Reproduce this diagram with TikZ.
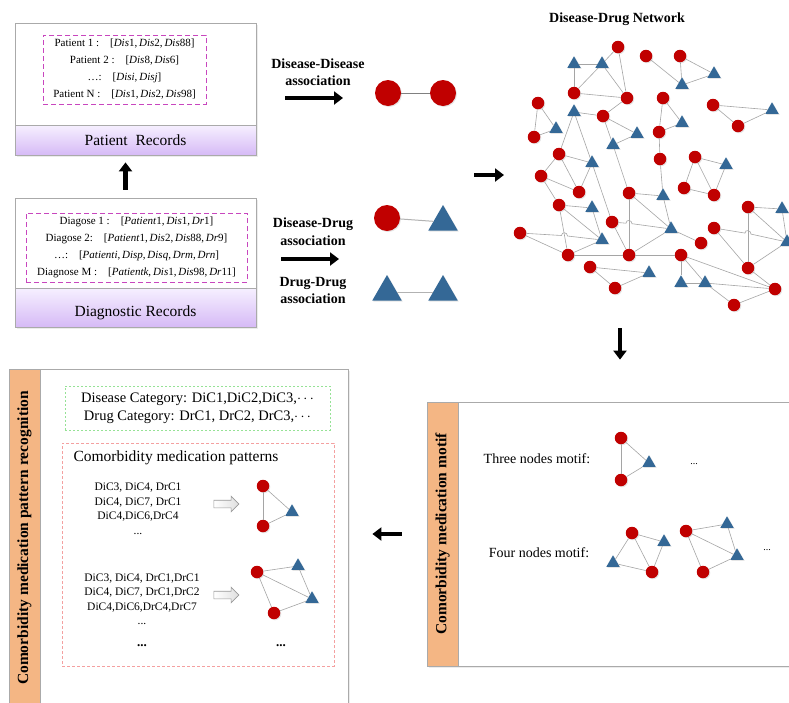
\documentclass[tikz,border=0pt]{standalone}
\usepackage{fontspec}
\setmainfont{Liberation Serif}
\usetikzlibrary{shapes.geometric,shapes.arrows,arrows.meta,shadows}

\definecolor{disred}{RGB}{192,0,0}
\definecolor{drugblue}{RGB}{52,104,150}
\definecolor{linkgray}{RGB}{165,165,165}
\definecolor{framegray}{RGB}{170,170,170}
\definecolor{bandorange}{RGB}{244,182,132}
\definecolor{bandtop}{RGB}{246,240,255}
\definecolor{bandbot}{RGB}{214,186,246}
\definecolor{listpink}{RGB}{200,70,190}
\definecolor{catgreen}{RGB}{150,226,150}
\definecolor{patred}{RGB}{244,160,160}

\tikzset{
	dis/.style={circle, fill=disred, minimum size=12.5pt, inner sep=0pt,
		drop shadow={shadow xshift=1pt, shadow yshift=-1pt, opacity=0.2}},
	drug/.style={regular polygon, regular polygon sides=3, fill=drugblue,
		minimum size=15.5pt, inner sep=0pt, yshift=-2pt,
		drop shadow={shadow xshift=1pt, shadow yshift=-1pt, opacity=0.2}},
	link/.style={draw=linkgray, line width=0.6pt},
	bond/.style={draw=gray, line width=1pt},
	bigarrow/.style={line width=4.5pt, -{Triangle[width=13pt, length=9pt]}},
	recbox/.style={draw=framegray, fill=white, line width=0.8pt,
		drop shadow={shadow xshift=1.5pt, shadow yshift=-1.5pt, opacity=0.15}},
	recband/.style={draw=framegray, line width=0.8pt, top color=bandtop, bottom color=bandbot},
	reclab/.style={font=\fontsize{15.5}{18}\selectfont},
	listbox/.style={draw=listpink, line width=1pt, dash pattern=on 5pt off 3pt,
		align=center, font=\fontsize{11}{17}\selectfont},
	panel/.style={draw=framegray, fill=white, line width=0.8pt,
		drop shadow={shadow xshift=1.5pt, shadow yshift=-1.5pt, opacity=0.15}},
	sideband/.style={draw=framegray, fill=bandorange, line width=0.8pt, minimum width=31pt},
	sidetext/.style={rotate=90, font=\bfseries\fontsize{15.5}{18}\selectfont},
	assoclab/.style={align=center, font=\bfseries\fontsize{14}{17.5}\selectfont},
	motiflab/.style={font=\fontsize{14}{17}\selectfont},
	seqlab/.style={align=center, font=\fontsize{11.5}{14.5}\selectfont},
	smalldots/.style={font=\fontsize{10}{12}\selectfont},
	bolddots/.style={font=\bfseries\fontsize{13}{15}\selectfont},
	hollow/.style={single arrow, draw=gray!80, line width=0.6pt, left color=white, right color=gray!25,
		minimum height=25pt, inner sep=3.5pt, single arrow head extend=4pt},
}

\begin{document}
\begin{tikzpicture}[x=1pt, y=-1pt]
			\useasboundingbox (0,0) rectangle (789,702);
			\fill[white] (0,0) rectangle (789,702);
			
			% Patient records
			\node (pat) at (135.5,89) [recbox, minimum width=241pt, minimum height=132pt] {};
			\node (patband) at (135.5,140) [recband, minimum width=241pt, minimum height=30pt] {};
			\node (patlab) at (135.5,140) [reclab] {Patient\ \ Records};
			\node (patlist) at (124.5,69.5) [listbox, minimum width=163pt, minimum height=69pt]
			{Patient 1 :\quad[\textit{Dis}1,\,\textit{Dis}2,\,\textit{Dis}88]\\
				Patient 2 :\quad[\textit{Dis}8,\,\textit{Dis}6]\\
				\dots:\quad[\textit{Disi},\,\textit{Disj}]\\
				Patient N :\quad[\textit{Dis}1,\,\textit{Dis}2,\,\textit{Dis}98]};
			
			% Diagnostic records
			\node (diag) at (135.5,262.5) [recbox, minimum width=241pt, minimum height=129pt] {};
			\node (diagband) at (135.5,307.5) [recband, minimum width=241pt, minimum height=39pt] {};
			\node (diaglab) at (135.5,313) [reclab] {Diagnostic Records};
			\node (diaglist) at (136.5,247.5) [listbox, minimum width=221pt, minimum height=69pt]
			{Diagose 1 :\quad[\textit{Patient}1,\,\textit{Dis}1,\,\textit{Dr}1]\\
				Diagose 2:\quad[\textit{Patient}1,\,\textit{Dis}2,\,\textit{Dis}88,\,\textit{Dr}9]\\
				\dots:\quad[\textit{Patienti},\,\textit{Disp},\,\textit{Disq},\,\textit{Drm},\,\textit{Drn}]\\
				Diagnose M :\quad[\textit{Patientk},\,\textit{Dis}1,\,\textit{Dis}98,\,\textit{Dr}11]};
			
			\draw[bigarrow, shorten <=8pt, shorten >=7pt] ([xshift=-10pt]diag.north) -- ([xshift=-10pt]pat.south);
			
			% Association types
			\node (ddlab) at (318,72) [assoclab] {Disease-Disease\\association};
			\coordinate (ddtail) at (285,98);
			\coordinate (ddhead) at (343,98);
			\draw[bigarrow] (ddtail) -- (ddhead);
			\node (dd1) at (388,93) [dis, minimum size=26pt] {};
			\node (dd2) at (443,93) [dis, minimum size=26pt] {};
			\draw[bond] (dd1) -- (dd2);
			
			\node (dglab) at (313,231.5) [assoclab] {Disease-Drug\\association};
			\coordinate (dgtail) at (281,259);
			\coordinate (dghead) at (339,259);
			\draw[bigarrow] (dgtail) -- (dghead);
			\node (dg1) at (387,218) [dis, minimum size=26pt] {};
			\node (dg2) at (443,218) [drug, minimum size=34pt, yshift=-2pt] {};
			\draw[bond, draw=gray!60] (dg1) -- (dg2);
			
			\node (rrlab) at (313,290.5) [assoclab] {Drug-Drug\\association};
			\node (rr1) at (387,288) [drug, minimum size=34pt, yshift=-2pt] {};
			\node (rr2) at (443,288) [drug, minimum size=34pt, yshift=-2pt] {};
			\draw[bond, draw=gray!60] (rr1) -- (rr2);
			
			\coordinate (netin) at (474,175);
			\coordinate (netleft) at (504,175);
			\draw[bigarrow] (netin) -- (netleft);
			
			% Disease-drug network
			\node (nettitle) at (617,19) [font=\bfseries\fontsize{14}{17}\selectfont] {Disease-Drug Network};
			\foreach \n/\x/\y in {c1/618/47, c2/646/56, c3/680/56, c4/574/93, c5/627/98, c6/538/103,
				c7/603/116, c8/663/98, c9/659/132, c10/713/105, c11/738/126, c12/534/137, c13/559/154,
				c14/660/159, c15/695/157, c16/541/176, c17/579/192, c18/684/188, c19/714/195, c20/629/193,
				c21/559/205, c22/748/207, c23/612/222, c24/714/228, c25/520/233, c26/701/243, c27/568/255,
				c28/629/255, c29/681/255, c30/590/267, c31/748/268, c32/615/288, c33/775/289, c34/734/305}
				\node (\n) at (\x,\y) [dis] {};
			\foreach \n/\x/\y in {t1/574/62, t2/602/62, t3/714/72, t4/682/83, t5/574/110, t6/682/121,
				t7/772/108, t8/556/127, t9/637/132, t10/613/143, t11/592/161, t12/726/163, t13/663/194,
				t14/592/206, t15/782/207, t16/671/227, t17/602/238, t18/787/240, t19/649/271,
				t20/681/281, t21/705/281}
				\node (\n) at (\x,\y) [drug] {};
			\foreach \a/\b in {c1/t2, c1/c5, t1/t2, t1/c4, t2/c4, t2/c5, c4/c5, c5/c7, t5/c7, c7/t9,
				c7/t10, t10/t9, t10/c20, c6/t8, c6/c12, c12/t8, t5/c13, t5/t11, c13/t11, c13/c16, c13/c17,
				t11/c17, t11/c23, c2/t4, c3/t4, c3/t3, t4/t3, c8/t6, c8/c9, c9/t6, c9/c14, c10/t7, c10/c11,
				c11/t7, c15/t12, c15/c18, c15/c19, c18/c19, c19/t12, c14/t13, t13/t16, c20/t13, c20/t16,
				t16/c28, t16/c26, c27/c28, c28/c29, c29/t20, c29/t21, t20/t21, c29/c33, t21/c33, t21/c34,
				c34/c33, c31/c33, c22/t15, c22/c31, c22/t18, t15/t18, c24/c31, c31/t18, c16/c17, c16/c21,
				c21/t14, c21/t17, t14/t17, c21/c27, c25/c27, c27/t17, c23/c28, c20/c28, c30/t19, c30/c32,
				c32/t19}
				\draw[link] (\a) -- (\b);
			% Line hops
			\draw[link] (c25) -- (561.5,235.5) .. controls (561.5,231.5) and (567.5,232) .. (567.5,236) -- (t17);
			\draw[link] (c23) -- (626,223.2) .. controls (626,219.2) and (632,219.7) .. (632,223.7) -- (t16);
			\draw[link] (c24) -- (745,233.1) .. controls (745,229.1) and (751,230.1) .. (751,234.1) -- (t18);
			
			% Motif panel
			\node (motif) at (611,534) [panel, minimum width=368pt, minimum height=264pt] {};
			\node (motifband) at (442.5,534) [sideband, minimum height=264pt] {};
			\node (motiftext) at (442.5,534) [sidetext] {Comorbidity medication motif};
			\coordinate (netbottom) at (620,310);
			\draw[bigarrow, shorten <=18pt, shorten >=42pt] (netbottom) -- (netbottom |- motif.north);
			
			\node (three) at (537,459) [motiflab] {Three nodes motif:};
			\node (m3a) at (621,438) [dis] {};
			\node (m3b) at (649,461) [drug] {};
			\node (m3c) at (621,480) [dis] {};
			\draw[link] (m3a) -- (m3b);
			\draw[link] (m3b) -- (m3c);
			\draw[link] (m3a) -- (m3c);
			\node (dots3) at (694,464) [smalldots] {...};
			
			\node (four) at (539,553) [motiflab] {Four nodes motif:};
			\node (m4a) at (632,533) [dis] {};
			\node (m4b) at (664,540) [drug] {};
			\node (m4c) at (613,561) [drug] {};
			\node (m4d) at (652,572) [dis] {};
			\draw[link] (m4a) -- (m4b);
			\draw[link] (m4a) -- (m4c);
			\draw[link] (m4a) -- (m4d);
			\draw[link] (m4c) -- (m4d);
			\draw[link] (m4b) -- (m4d);
			\node (m5a) at (686,531) [dis] {};
			\node (m5b) at (727,522) [drug] {};
			\node (m5c) at (737,554) [drug] {};
			\node (m5d) at (703,572) [dis] {};
			\draw[link] (m5a) -- (m5b);
			\draw[link] (m5a) -- (m5c);
			\draw[link] (m5a) -- (m5d);
			\draw[link] (m5b) -- (m5c);
			\draw[link] (m5c) -- (m5d);
			\node (dots4) at (767,550) [smalldots] {...};
			
			% Pattern recognition panel
			\node (pattern) at (178.5,539.5) [panel, minimum width=339pt, minimum height=341pt] {};
			\node (patternband) at (24.5,539.5) [sideband, minimum height=341pt] {};
			\node (patterntext) at (24.5,538) [sidetext] {Comorbidity medication pattern recognition};
			\draw[bigarrow, shorten <=25pt, shorten >=24pt] (motif.west) -- (motif.west -| pattern.east);
			
			\node (category) at (197.5,408) [draw=catgreen, dash pattern=on 2pt off 2pt, minimum width=265pt,
				minimum height=44pt, align=center, font=\fontsize{14.5}{18}\selectfont]
			{Disease Category: DiC1,DiC2,DiC3,$\cdots$\\Drug Category: DrC1, DrC2, DrC3,$\cdots$};
			\node (patterns) at (198,554.5) [draw=patred, dash pattern=on 3pt off 2pt, minimum width=272pt,
				minimum height=223pt] {};
			\node (patternhead) at (70,458) [anchor=west, font=\fontsize{15.5}{18}\selectfont] {Comorbidity medication patterns};
			
			\node (seq1) at (138,509) [seqlab] {DiC3, DiC4, DrC1\\DiC4, DiC7, DrC1\\DiC4,DiC6,DrC4\\...};
			\node (ha1) at (224.5,504) [hollow] {};
			\node (p1a) at (263,486) [dis] {};
			\node (p1b) at (292,510) [drug] {};
			\node (p1c) at (263,526) [dis] {};
			\draw[link] (p1a) -- (p1b);
			\draw[link] (p1b) -- (p1c);
			\draw[link] (p1a) -- (p1c);
			
			\node (seq2) at (142,599.5) [seqlab] {DiC3, DiC4, DrC1,DrC1\\DiC4, DiC7, DrC1,DrC2\\DiC4,DiC6,DrC4,DrC7\\...};
			\node (ha2) at (224.5,595) [hollow] {};
			\node (p2a) at (257,572) [dis] {};
			\node (p2b) at (298,564) [drug] {};
			\node (p2c) at (312,597) [drug] {};
			\node (p2d) at (274,613) [dis] {};
			\draw[link] (p2a) -- (p2b);
			\draw[link] (p2a) -- (p2c);
			\draw[link] (p2a) -- (p2d);
			\draw[link] (p2b) -- (p2c);
			\draw[link] (p2c) -- (p2d);
			
			\node (more1) at (142,646) [bolddots] {...};
			\node (more2) at (281,646) [bolddots] {...};
		\end{tikzpicture}
\end{document}
